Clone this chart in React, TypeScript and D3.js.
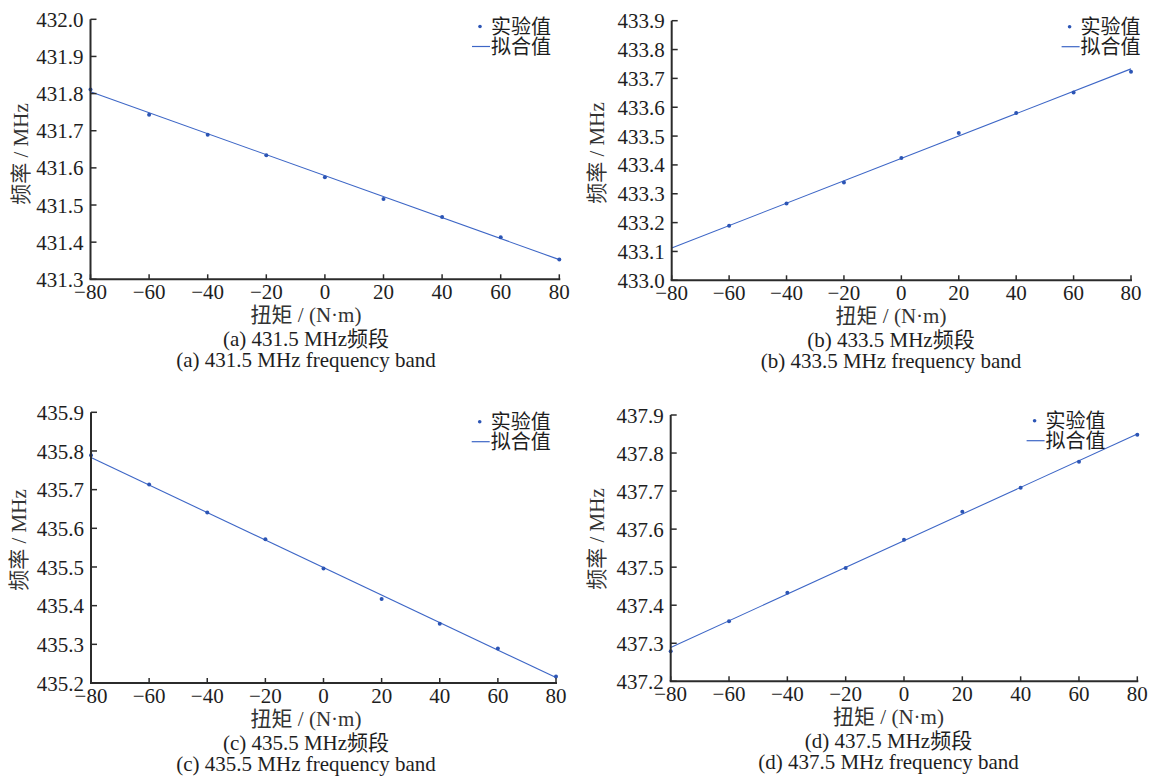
import * as d3 from 'd3';

// torque values (N·m)
const torque = [-80, -60, -40, -20, 0, 20, 40, 60, 80];
const torqueB = [-60, -40, -20, 0, 20, 40, 60, 80];
const xTicks = [-80, -60, -40, -20, 0, 20, 40, 60, 80];

// measured frequency (MHz)
const freqA = [431.811, 431.743, 431.689, 431.634, 431.575, 431.516, 431.468, 431.413, 431.353];
const freqB = [433.189, 433.266, 433.339, 433.424, 433.511, 433.58, 433.651, 433.723];
const freqC = [435.789, 435.713, 435.641, 435.572, 435.496, 435.417, 435.353, 435.289, 435.217];
const freqD = [437.279, 437.358, 437.433, 437.498, 437.572, 437.646, 437.709, 437.777, 437.848];

// fitted line values at -80 and 80
const fitX = [-80, 80];
const fitA = [431.805, 431.353];
const fitB = [433.112, 433.733];
const fitC = [435.783, 435.214];
const fitD = [437.289, 437.85];

const yDomainA = [431.3, 432.0];
const yDomainB = [433.0, 433.9];
const yDomainC = [435.2, 435.9];
const yDomainD = [437.2, 437.9];

const captionsCn = ['(a) 431.5 MHz频段', '(b) 433.5 MHz频段', '(c) 435.5 MHz频段', '(d) 437.5 MHz频段'];
const captionsEn = [
  '(a) 431.5 MHz frequency band',
  '(b) 433.5 MHz frequency band',
  '(c) 435.5 MHz frequency band',
  '(d) 437.5 MHz frequency band',
];
const legendLabels = ['实验值', '拟合值'];
const xTitle = '扭矩 / (N·m)';
const yTitle = '频率 / MHz';

const FONT = '"Liberation Serif", "Times New Roman", "Noto Sans CJK SC", serif';
const AXIS = '#2b2b2b';
const TEXT = '#1e1e1e';
const DOT = '#2c55b5';
const LINE = '#3d66c6';

// layout: plot box, legend position, caption centre
const layouts = [
  { l: 90.5, r: 559.3, t: 19.3, b: 279.3, legX: 491, legY: 26.5, cx: 306, ylx: 21, yly: 154 },
  { l: 671.7, r: 1131, t: 20.7, b: 280.3, legX: 1080.6, legY: 26.7, cx: 891, ylx: 597, yly: 153 },
  { l: 91, r: 556, t: 412.3, b: 683, legX: 490.7, legY: 421.7, cx: 306, ylx: 19, yly: 540 },
  { l: 670.7, r: 1137.3, t: 415, b: 681.3, legX: 1045.6, legY: 420.7, cx: 888.5, ylx: 597, yly: 539 },
];

const series = [
  { xs: torque, ys: freqA, fit: fitA, dom: yDomainA },
  { xs: torqueB, ys: freqB, fit: fitB, dom: yDomainB },
  { xs: torque, ys: freqC, fit: fitC, dom: yDomainC },
  { xs: torque, ys: freqD, fit: fitD, dom: yDomainD },
];

function Panel({ idx }: { idx: number }) {
  const L = layouts[idx];
  const s = series[idx];
  const x = d3.scaleLinear().domain([-80, 80]).range([L.l, L.r]);
  const y = d3.scaleLinear().domain(s.dom).range([L.b, L.t]);
  const yTicks = d3.range(0, 10).map((i) => +(s.dom[0] + i * 0.1).toFixed(1)).filter((v) => v <= s.dom[1] + 1e-9);

  const line = d3
    .line<number>()
    .x((_, i) => x(fitX[i]))
    .y((d) => y(d));

  return (
    <g>
      {/* fitted line */}
      <path d={line(s.fit) || ''} fill="none" stroke={LINE} strokeWidth={1.1} />
      {/* measured points */}
      {s.xs.map((t, i) => (
        <circle key={i} cx={x(t)} cy={y(s.ys[i])} r={2} fill={DOT} />
      ))}

      {/* axes */}
      <line x1={L.l} x2={L.l} y1={L.t} y2={L.b} stroke={AXIS} strokeWidth={2} />
      <line x1={L.l - 1} x2={L.r + 1} y1={L.b} y2={L.b} stroke={AXIS} strokeWidth={2} />
      {yTicks.map((v) => (
        <g key={v}>
          <line x1={L.l} x2={L.l + 6} y1={y(v)} y2={y(v)} stroke={AXIS} strokeWidth={1.5} />
          <text
            x={L.l - 7}
            y={y(v)}
            dy="0.36em"
            textAnchor="end"
            fontSize={21}
            fill={TEXT}
          >
            {v.toFixed(1)}
          </text>
        </g>
      ))}
      {xTicks.map((v) => (
        <g key={v}>
          <line x1={x(v)} x2={x(v)} y1={L.b} y2={L.b - 5} stroke={AXIS} strokeWidth={1.5} />
          <text x={x(v)} y={L.b + 20} textAnchor="middle" fontSize={21} fill={TEXT}>
            {v < 0 ? '\u2212' + Math.abs(v) : v}
          </text>
        </g>
      ))}

      {/* axis titles */}
      <text
        transform={`translate(${L.ylx},${L.yly}) rotate(-90)`}
        textAnchor="middle"
        dy="0.35em"
        fontSize={21}
        fill="#333"
      >
        {yTitle}
      </text>
      <text x={L.cx} y={L.b + 43} textAnchor="middle" fontSize={21} fill="#333">
        {xTitle}
      </text>

      {/* captions */}
      <text x={L.cx} y={L.b + 67} textAnchor="middle" fontSize={21} fill={TEXT}>
        {captionsCn[idx]}
      </text>
      <text x={L.cx} y={L.b + 88} textAnchor="middle" fontSize={21} fill={TEXT}>
        {captionsEn[idx]}
      </text>

      {/* legend */}
      <circle cx={L.legX - 11} cy={L.legY} r={1.8} fill={DOT} />
      <text x={L.legX} y={L.legY} dy="0.35em" fontSize={20} fill={TEXT}>
        {legendLabels[0]}
      </text>
      <line x1={L.legX - 19} x2={L.legX - 1} y1={L.legY + 20} y2={L.legY + 20} stroke={LINE} strokeWidth={1.2} />
      <text x={L.legX} y={L.legY + 20} dy="0.35em" fontSize={20} fill={TEXT}>
        {legendLabels[1]}
      </text>
    </g>
  );
}

export default function App() {
  return (
    <svg
      width={1150}
      height={780}
      style={{ position: 'absolute', left: 0, top: 0, background: '#fff' }}
      fontFamily={FONT}
    >
      {[0, 1, 2, 3].map((i) => (
        <Panel key={i} idx={i} />
      ))}
    </svg>
  );
}
